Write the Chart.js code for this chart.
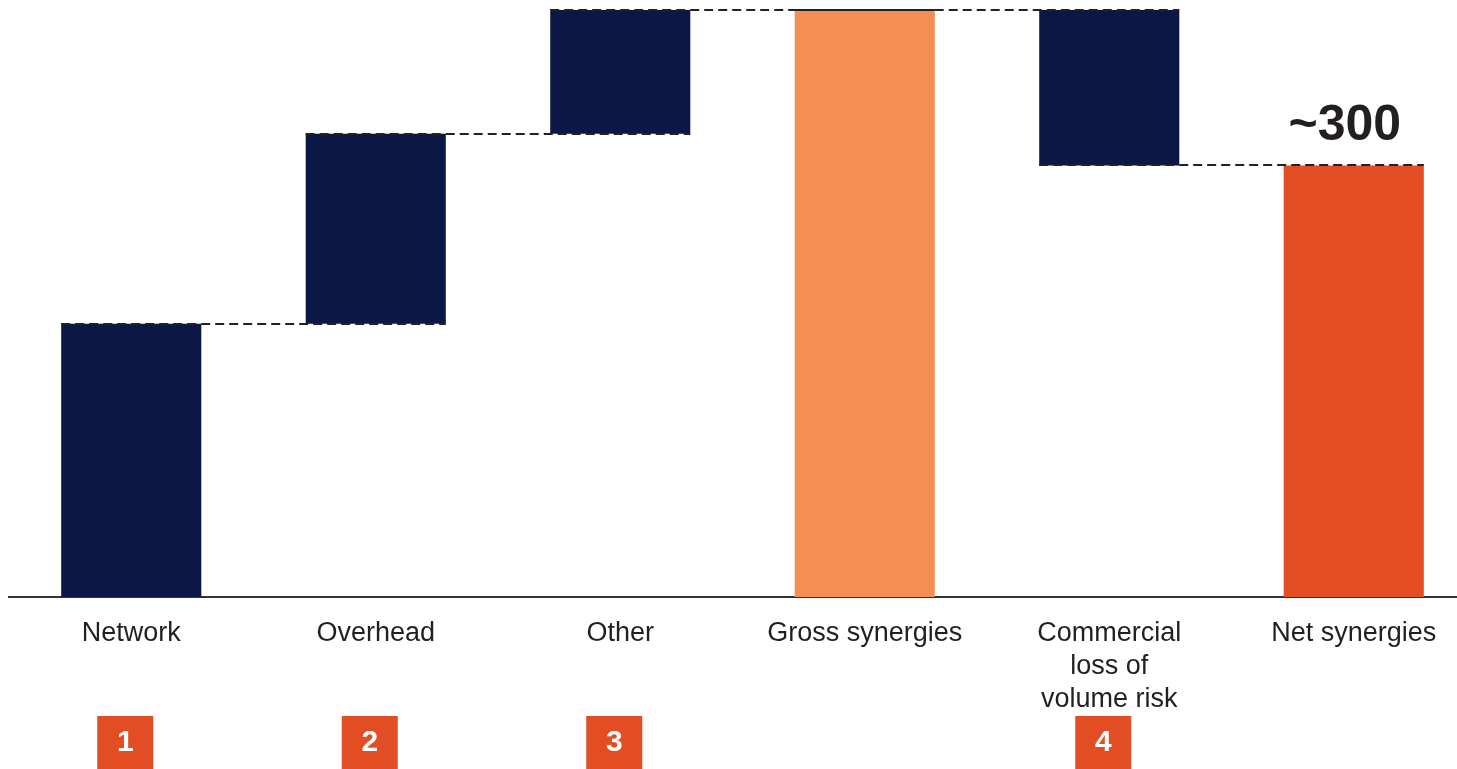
<!DOCTYPE html>
<html>
<head>
<meta charset="utf-8">
<title>Synergies</title>
<script src="https://cdn.jsdelivr.net/npm/chart.js@4.4.1/dist/chart.umd.min.js"></script>
<style>
  html, body { margin: 0; padding: 0; background: #fff; overflow: hidden; }
  #wrap { width: 1476px; height: 769px; }
</style>
</head>
<body>
<div id="wrap"><canvas id="synergyChart"></canvas></div>
<script>
// Waterfall data
const categories = ['Network', 'Overhead', 'Other', 'Gross synergies', ['Commercial', 'loss of', 'volume risk'], 'Net synergies'];
const values = [190, 132, 86, 408, -108, 300];
const kinds = ['step', 'step', 'step', 'total', 'step', 'total'];
const badges = ['1', '2', '3', '', '4', ''];
const netLabel = '~300';

const NAVY = '#0b1846';
const GROSS = '#f48e52';
const NET = '#e34d24';
const INK = '#231f20';
const FONT = "'Liberation Sans', Arial, sans-serif";

// turn steps/totals into floating [start, end] ranges
let running = 0;
const ranges = values.map((v, i) => {
  if (kinds[i] === 'total') {
    running = v;
    return [0, v];
  }
  const start = running;
  running += v;
  return [start, running];
});
const barColors = kinds.map((k, i) => k === 'step' ? NAVY : (i === kinds.length - 1 ? NET : GROSS));

// dashed connectors between neighbouring bars, badges and the net label
const waterfallExtras = {
  id: 'waterfallExtras',
  afterDatasetsDraw(chart) {
    const ctx = chart.ctx;
    const bars = chart.getDatasetMeta(0).data;
    const y = chart.scales.y;
    ctx.save();
    ctx.strokeStyle = '#222';
    ctx.lineWidth = 2.2;
    ctx.setLineDash([9, 5]);
    for (let i = 0; i < bars.length - 1; i++) {
      const level = ranges[i][1];
      const py = Math.round(y.getPixelForValue(level));
      const x0 = bars[i].x - bars[i].width / 2;
      const x1 = bars[i + 1].x + bars[i + 1].width / 2;
      ctx.beginPath();
      ctx.moveTo(x0, py);
      ctx.lineTo(x1, py);
      ctx.stroke();
    }
    ctx.setLineDash([]);

    // value label over the net bar
    const last = bars[bars.length - 1];
    ctx.fillStyle = INK;
    ctx.font = 'bold 50px ' + FONT;
    ctx.textAlign = 'center';
    ctx.textBaseline = 'alphabetic';
    ctx.fillText(netLabel, last.x - 9, y.getPixelForValue(values[values.length - 1]) - 25);

    // numbered badges under the categories
    const bottom = chart.chartArea.bottom;
    ctx.font = 'bold 30px ' + FONT;
    ctx.textBaseline = 'middle';
    bars.forEach((bar, i) => {
      if (!badges[i]) return;
      const cx = bar.x - 6;
      ctx.fillStyle = NET;
      ctx.fillRect(cx - 28, bottom + 119, 56, 56);
      ctx.fillStyle = '#fff';
      ctx.fillText(badges[i], cx, bottom + 146);
    });
    ctx.restore();
  }
};

new Chart(document.getElementById('synergyChart'), {
  type: 'bar',
  data: {
    labels: categories,
    datasets: [{
      data: ranges,
      backgroundColor: barColors,
      borderWidth: 0,
      categoryPercentage: 1,
      barPercentage: 0.573
    }]
  },
  options: {
    responsive: true,
    maintainAspectRatio: false,
    animation: false,
    layout: { padding: { left: 9, right: 0, top: 0, bottom: 0 } },
    plugins: {
      legend: { display: false },
      tooltip: { enabled: false }
    },
    scales: {
      x: {
        grid: { display: false, drawTicks: false },
        border: { display: true, color: '#333', width: 2 },
        ticks: {
          color: INK,
          padding: 20,
          maxRotation: 0,
          autoSkip: false,
          font: { family: FONT, size: 27, lineHeight: 1.22 }
        },
        afterFit(axis) { axis.height = 172; }
      },
      y: {
        display: false,
        min: 0,
        max: 415
      }
    }
  },
  plugins: [waterfallExtras]
});
</script>
</body>
</html>
